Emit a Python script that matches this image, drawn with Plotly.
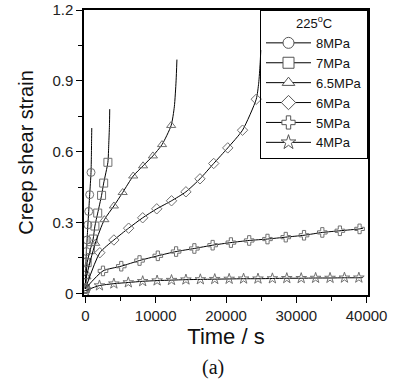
import plotly.graph_objects as go

# ---------------- data ----------------
names = ["8MPa", "7MPa", "6.5MPa", "6MPa", "5MPa", "4MPa"]
symbols = ["circle", "square", "triangle-up", "diamond", "cross", "star"]

t_8 = [0, 30, 80, 150, 240, 350, 470, 610, 800]
s_8 = [0.02, 0.078, 0.134, 0.177, 0.226, 0.29, 0.347, 0.418, 0.512]
tail_t_8 = [850, 880, 905]
tail_s_8 = [0.58, 0.65, 0.70]

t_7 = [0, 250, 700, 1100, 1350, 1750, 2300, 2600, 3200]
s_7 = [0.02, 0.13, 0.185, 0.23, 0.285, 0.34, 0.415, 0.467, 0.555]
tail_t_7 = [3320, 3420, 3460]
tail_s_7 = [0.63, 0.71, 0.78]

t_65 = [0, 150, 1400, 2700, 4050, 5300, 6800, 8200, 9600, 10900, 12200]
s_65 = [0.02, 0.07, 0.212, 0.312, 0.37, 0.427, 0.497, 0.54, 0.582, 0.63, 0.711]
tail_t_65 = [12650, 12900, 13020]
tail_s_65 = [0.79, 0.90, 0.99]

t_6 = [0, 2050, 4050, 6150, 8150, 10150, 12250, 14300, 16300, 18250, 20250, 22350, 24300]
s_6 = [0.02, 0.172, 0.226, 0.276, 0.32, 0.358, 0.392, 0.43, 0.485, 0.55, 0.616, 0.691, 0.822]
tail_t_6 = [24650, 24850, 24950]
tail_s_6 = [0.89, 0.97, 1.03]

t_5 = [0, 2500, 5100, 7700, 10300, 12900, 15500, 18100, 20700, 23300,
       25900, 28500, 31100, 33700, 36200, 39000]
s_5 = [0.02, 0.095, 0.115, 0.139, 0.159, 0.177, 0.19, 0.204, 0.215, 0.224,
       0.23, 0.238, 0.246, 0.258, 0.265, 0.273]
tail_t_5 = [39500]
tail_s_5 = [0.276]

t_4 = [0, 2000, 4050, 6100, 8150, 10200, 12250, 14300, 16350, 18400, 20450,
       22500, 24550, 26600, 28650, 30700, 32750, 34800, 36850, 38900]
s_4 = [0.012, 0.033, 0.041, 0.046, 0.051, 0.054, 0.056, 0.058, 0.059, 0.060,
       0.061, 0.062, 0.062, 0.063, 0.064, 0.064, 0.065, 0.065, 0.066, 0.066]
tail_t_4 = [39500]
tail_s_4 = [0.067]

series = [
    (t_8, s_8, tail_t_8, tail_s_8),
    (t_7, s_7, tail_t_7, tail_s_7),
    (t_65, s_65, tail_t_65, tail_s_65),
    (t_6, s_6, tail_t_6, tail_s_6),
    (t_5, s_5, tail_t_5, tail_s_5),
    (t_4, s_4, tail_t_4, tail_s_4),
]

x_ticks = [0, 10000, 20000, 30000, 40000]
x_tick_labels = ["0", "10000", "20000", "30000", "40000"]
y_ticks = [0, 0.3, 0.6, 0.9, 1.2]
y_tick_labels = ["0", "0.3", "0.6", "0.9", "1.2"]

# ---------------- figure ----------------
MK = "#707070"
fig = go.Figure()

for name, sym, (tt, ss, tt_tail, ss_tail) in zip(names, symbols, series):
    fig.add_trace(go.Scatter(
        x=tt + tt_tail, y=ss + ss_tail, mode="lines",
        line=dict(color="black", width=1, shape="spline", smoothing=0.6),
        showlegend=False, hoverinfo="skip"))
    fig.add_trace(go.Scatter(
        x=tt, y=ss, mode="markers",
        marker=dict(symbol=sym + "-open", size=8, color=MK, line=dict(width=1, color=MK)),
        showlegend=False))

for name, sym in zip(names, symbols):
    fig.add_trace(go.Scatter(
        x=[None], y=[None], mode="lines+markers", name=name,
        line=dict(color="black", width=1),
        marker=dict(symbol=sym, size=11, color="white", line=dict(width=1, color="#555555"))))

fig.update_layout(
    width=395, height=380,
    margin=dict(l=84, r=27, t=10, b=85),
    paper_bgcolor="white", plot_bgcolor="white",
    font=dict(family="Liberation Sans, Arial, sans-serif", color="#222222"),
    legend=dict(
        x=1, xanchor="right", y=1, yanchor="top",
        bgcolor="rgba(0,0,0,0)", bordercolor="black", borderwidth=1,
        font=dict(size=13, color="#111111"),
        title=dict(text="225<sup>o</sup>C", side="top center", font=dict(size=13)),
        tracegroupgap=0, itemwidth=45,
    ),
    xaxis=dict(
        range=[-200, 40200], tickvals=x_ticks, ticktext=x_tick_labels,
        ticks="outside", ticklen=6, tickwidth=1.2, tickcolor="black",
        minor=dict(dtick=5000, ticks="outside", ticklen=4, tickcolor="black", tick0=0),
        showline=True, linecolor="black", linewidth=1.5, mirror=True,
        showgrid=False, zeroline=False, automargin=False,
        tickfont=dict(size=15, color="#222222"),
        title=dict(text="Time / s", font=dict(size=22, color="#111111"), standoff=3),
    ),
    yaxis=dict(
        range=[-0.007, 1.2], tickvals=y_ticks, ticktext=y_tick_labels,
        ticks="outside", ticklen=6, tickwidth=1.2, tickcolor="black",
        minor=dict(dtick=0.15, ticks="outside", ticklen=4, tickcolor="black", tick0=0),
        showline=True, linecolor="black", linewidth=1.5, mirror=True,
        showgrid=False, zeroline=False, automargin=False,
        tickfont=dict(size=15, color="#222222"),
        title=dict(text="Creep shear strain", font=dict(size=20, color="#111111"), standoff=13),
    ),
    annotations=[dict(
        text="(a)", xref="paper", yref="paper", x=0.454, y=-0.256,
        xanchor="center", yanchor="middle", showarrow=False,
        font=dict(family="Liberation Serif, Times New Roman, serif", size=20, color="#111111"))],
)

fig.write_html("out.html", config={"displayModeBar": False},
               post_script="document.body.style.margin='0';")
